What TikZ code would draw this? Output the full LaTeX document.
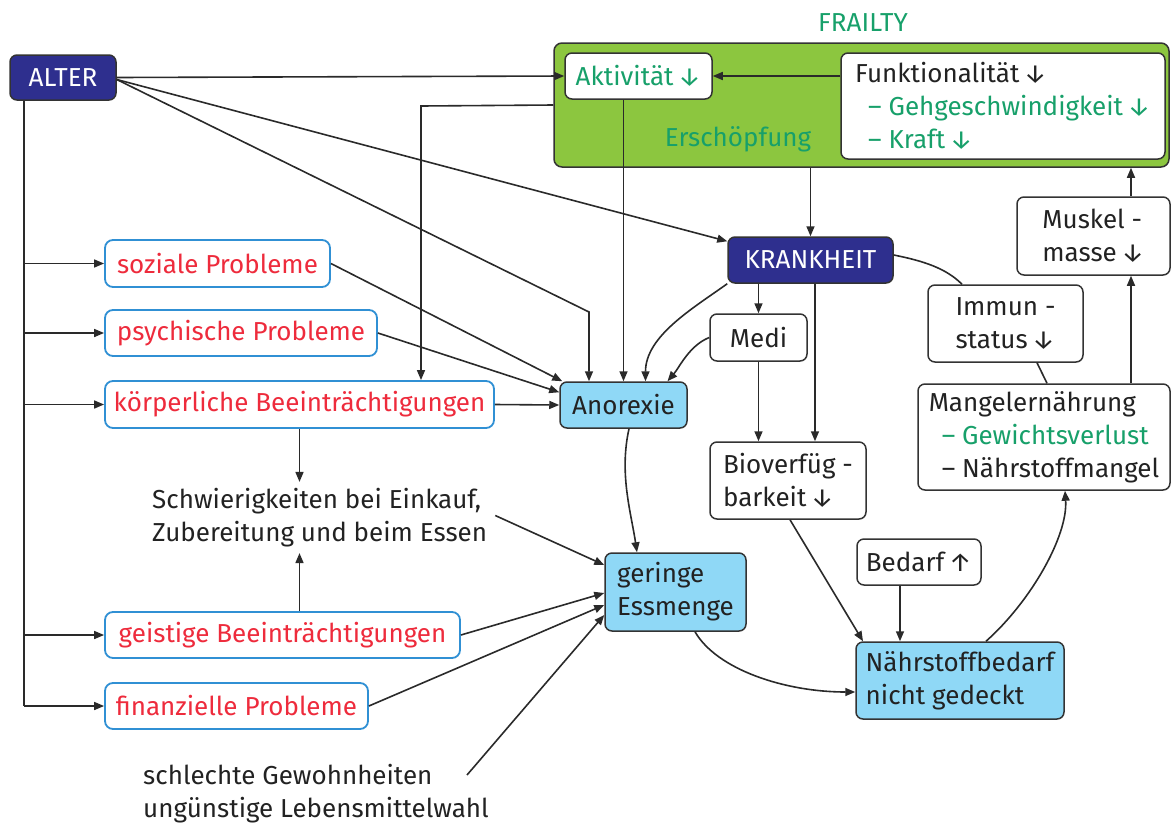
\documentclass[tikz,border=0pt]{standalone}
\usepackage{fontspec}
\setmainfont{Fira Sans}
\usetikzlibrary{arrows.meta,calc}
\definecolor{navy}{HTML}{2E2F8E}
\definecolor{frailfill}{HTML}{8CC63F}
\definecolor{greentext}{HTML}{17A06A}
\definecolor{redtext}{HTML}{EE2B3C}
\definecolor{blueline}{HTML}{3090D4}
\definecolor{lightblue}{HTML}{8FD8F6}
\definecolor{boxline}{HTML}{333333}
\definecolor{linec}{HTML}{2A2A2A}
\definecolor{darktext}{HTML}{222222}
\newcommand{\dnar}{\,↓}
\newcommand{\uparr}{\,↑}
\begin{document}
\begin{tikzpicture}[x=1pt,y=-1pt,
  every node/.style={font=\fontsize{26}{33}\selectfont, inner sep=0pt, text=darktext},
  wbox/.style={draw=boxline, line width=1.5pt, rounded corners=7pt, fill=white},
  rbox/.style={draw=blueline, line width=1.8pt, rounded corners=8pt, fill=white, text=redtext},
  nbox/.style={draw=boxline, line width=1.5pt, rounded corners=7pt, fill=navy, text=white},
  lbbox/.style={draw=boxline, line width=1.5pt, rounded corners=7pt, fill=lightblue},
  gbox/.style={draw=boxline, line width=1.5pt, rounded corners=8pt, fill=frailfill},
  conn/.style={line width=1.6pt, draw=linec},
  arr/.style={conn, -{Triangle[length=10pt,width=8pt]}},
]
\useasboundingbox (0,0) rectangle (1171,823);

% Frailty group
\node[gbox, minimum width=615, minimum height=124] (gruen) at (861.5,105) {};
\node[text=greentext] (frail) at (863,23) {FRAILTY};
\node[wbox, text=greentext, minimum width=147, minimum height=46] (akt) at (638.5,76) {Aktivität\dnar};
\node[wbox, align=left, minimum width=324, minimum height=106] (funk) at (1003,106)
  {Funktionalität\dnar\\
   \hspace*{13pt}\textcolor{greentext}{– Gehgeschwindigkeit\dnar}\\
   \hspace*{13pt}\textcolor{greentext}{– Kraft\dnar}};
\node[text=greentext] (ersch) at (738,139) {Erschöpfung};

% main nodes
\node[nbox, minimum width=106, minimum height=45] (alter) at (63,77.5) {ALTER};
\node[nbox, minimum width=165, minimum height=46] (krank) at (810.5,260) {KRANKHEIT};
\node[wbox, align=left, minimum width=153, minimum height=78] (musk) at (1093.5,236) {Muskel -\\masse\dnar};

\node[rbox, minimum width=225, minimum height=47] (soz) at (217.5,263.5) {soziale Probleme};
\node[rbox, minimum width=272, minimum height=46] (psy) at (241,333) {psychische Probleme};
\node[rbox, minimum width=389, minimum height=47] (koerp) at (299.5,404.5) {körperliche Beeinträchtigungen};
\node[rbox, minimum width=355, minimum height=46] (geist) at (282.5,635) {geistige Beeinträchtigungen};
\node[rbox, minimum width=263, minimum height=46] (fin) at (236.5,706) {finanzielle Probleme};

\node[align=left, anchor=west, inner ysep=6pt] (schw) at (152,517.5)
  {Schwierigkeiten bei Einkauf,\\Zubereitung und beim Essen};
\node[align=left, anchor=west] (schl) at (143,794)
  {schlechte Gewohnheiten\\ungünstige Lebensmittelwahl};

\node[lbbox, minimum width=127, minimum height=46] (anor) at (623.5,405) {Anorexie};
\node[wbox, minimum width=97, minimum height=47] (medi) at (758.5,337.5) {Medi};
\node[wbox, align=left, minimum width=156, minimum height=77] (bio) at (788,480.5) {Bioverfüg -\\barkeit\dnar};
\node[wbox, align=left, minimum width=155, minimum height=77] (immun) at (1005.5,323.5) {Immun -\\status\dnar};
\node[wbox, align=left, minimum width=252, minimum height=106] (mang) at (1044,437)
  {Mangelernährung\\
   \hspace*{13pt}\textcolor{greentext}{– Gewichtsverlust}\\
   \hspace*{13pt}– Nährstoffmangel};
\node[lbbox, align=left, minimum width=141, minimum height=78] (ger) at (675.5,592) {geringe\\Essmenge};
\node[wbox, minimum width=124, minimum height=46] (bed) at (919,562) {Bedarf\uparr};
\node[lbbox, align=left, minimum width=208, minimum height=77] (naehr) at (960,680.5) {Nährstoffbedarf\\nicht gedeckt};

% helper coordinates
\coordinate (tx) at (24,0);
\coordinate (k1) at (589,312);
\coordinate (kx) at (421,106);
\coordinate (mx) at (1131,0);
\coordinate (s0) at (467,775);

% ALTER connectors
\draw[arr] (alter.east) -- (akt.west);
\draw[arr] ([yshift=-2]alter.east) -- ([yshift=-5]krank.north west);
\draw[arr] ([yshift=-2]alter.east) -- (k1) -- (k1 |- anor.north);
\draw[conn] (tx |- alter.south) -- (tx |- fin.west);
\draw[arr] (tx |- soz.west) -- (soz.west);
\draw[arr] (tx |- psy.west) -- (psy.west);
\draw[arr] (tx |- koerp.west) -- (koerp.west);
\draw[arr] (tx |- geist.west) -- (geist.west);
\draw[arr] (tx |- fin.west) -- (fin.west);

% frailty internals
\draw[arr] (funk.west |- akt.east) -- (akt.east);
\draw[arr] (gruen.west) -- (kx) -- (kx |- koerp.north);
\draw[arr] (akt.south -| anor.north) -- (anor.north);
\draw[arr] (gruen.south -| krank.north) -- (krank.north);
\draw[arr] (mx |- musk.north) -- (mx |- gruen.south);
\draw[arr] (mx |- mang.north) -- (mx |- musk.south);

% into Anorexie
\draw[arr] (soz.east) -- ([xshift=3]anor.north west);
\draw[arr] (psy.east) -- ([yshift=-11]anor.north west);
\draw[arr] (koerp.east) -- (anor.west);
\draw[arr] (krank.south west) .. controls +(-35,25) and +(0,-45) .. ([xshift=22]anor.north);
\draw[arr] (medi.west) .. controls +(-20,8) and +(12,-14) .. ([xshift=44]anor.north);

% KRANKHEIT
\draw[arr] (krank.south -| medi.north) -- (medi.north);
\draw[arr] ([xshift=4.5]krank.south) -- ([xshift=4.5]krank.south |- bio.north);
\draw[arr] (medi.south) -- (medi.south |- bio.north);
\draw[conn] ([yshift=5]krank.east) .. controls +(30,6) and +(-16,-16) .. ([xshift=-43.5]immun.north);
\draw[conn] ([xshift=31.5]immun.south) -- ([xshift=3]mang.north);

% Schwierigkeiten
\draw[arr] (koerp.south) -- (koerp.south |- schw.north);
\draw[arr] (koerp.south |- geist.north) -- (koerp.south |- schw.south);

% into geringe Essmenge
\draw[arr] ([xshift=8,yshift=2]schw.east) -- ([yshift=27]ger.west);
\draw[arr] (geist.east) -- ([yshift=-1]ger.west);
\draw[arr] (fin.east) -- ([yshift=-13]ger.west);
\draw[arr] (s0) -- ([yshift=-23]ger.west);
\draw[arr] ([xshift=5.5]anor.south) .. controls +(-10,45) and +(-6,-40) .. ([xshift=-38.5]ger.north);

% lower right
\draw[arr] ([xshift=19.5]ger.south) .. controls +(22,38) and +(-70,0) .. ([yshift=-11.5]naehr.west);
\draw[arr] ([xshift=2]bio.south) -- ([xshift=-97]naehr.north);
\draw[arr] ([xshift=-19]bed.south) -- ([xshift=-19]bed.south |- naehr.north);
\draw[arr] ([xshift=26]naehr.north) .. controls +(45,-40) and +(3,45) .. ([xshift=21]mang.south);
\end{tikzpicture}
\end{document}
